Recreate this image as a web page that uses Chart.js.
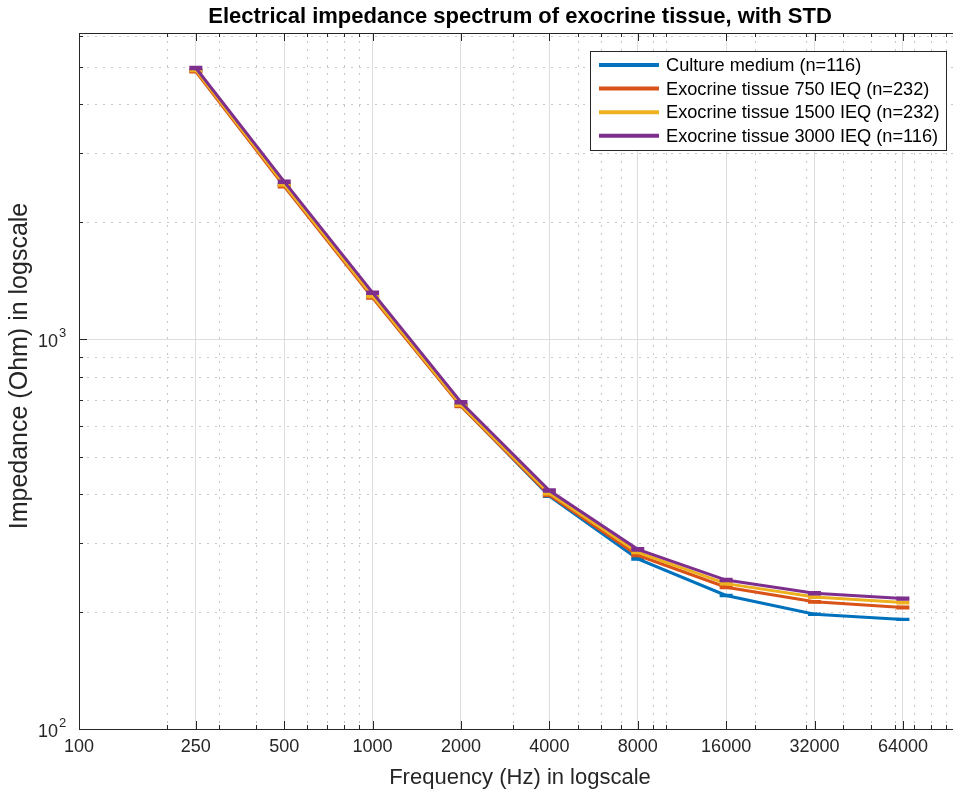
<!DOCTYPE html>
<html lang="en">
<head>
    <meta charset="UTF-8">
    <title>Electrical impedance spectrum of exocrine tissue</title>
    <script src="https://cdn.jsdelivr.net/npm/chart.js"></script>
    <style>
        body { margin: 0; background: #fff; }
    </style>
</head>
<body>
    <canvas id="myChart" width="953" height="796"></canvas>
    <script>
        // data
        const frequencies = [250, 500, 1000, 2000, 4000, 8000, 16000, 32000, 64000];
        const xTickValues = [100, 250, 500, 1000, 2000, 4000, 8000, 16000, 32000, 64000];
        const xMinorValues = [200, 300, 400, 600, 700, 800, 900, 3000, 5000, 6000, 7000, 9000, 10000,
                              20000, 30000, 40000, 50000, 60000, 70000, 80000, 90000];
        const yTickValues = [100, 1000];
        const yTickExponents = ['2', '3'];
        const yMinorValues = [200, 300, 400, 500, 600, 700, 800, 900, 2000, 3000, 4000, 5000, 6000];

        const seriesNames = ['Culture medium (n=116)', 'Exocrine tissue 750 IEQ (n=232)',
                             'Exocrine tissue 1500 IEQ (n=232)', 'Exocrine tissue 3000 IEQ (n=116)'];
        const cultureMedium = [4890, 2480, 1285, 675, 396, 273, 220, 197, 191];
        const tissue750 = [4860, 2466, 1277, 673, 398, 279, 231, 212, 205];
        const tissue1500 = [4900, 2490, 1289, 678, 402, 284, 236, 218, 211];
        const tissue3000 = [4960, 2535, 1316, 689, 409, 289, 241, 223, 216];
        const stdCulture = [20, 10, 5, 2.5, 1.5, 1, 0.6, 0.5, 0.4];
        const std750 = [25, 12, 6, 3, 2, 1.3, 1, 0.8, 0.8];
        const std1500 = [25, 12, 6, 3, 2, 1.3, 1, 0.8, 0.8];
        const std3000 = [30, 15, 8, 4, 2.5, 1.8, 1.4, 1.2, 1.2];
        const seriesColors = ['#0072BD', '#D95319', '#EDB120', '#7E2F8E'];

        const seriesValues = [cultureMedium, tissue750, tissue1500, tissue3000];
        const seriesStd = [stdCulture, std750, std1500, std3000];

        const FONT = '"Liberation Sans", Arial, sans-serif';
        Chart.defaults.font.family = FONT;
        Chart.defaults.color = '#262626';

        // dotted minor grid, inward ticks, axes box, texts and legend like matlab
        const axesDecor = {
            id: 'axesDecor',
            beforeDatasetsDraw(chart) {
                const { ctx, chartArea: a, scales: { x, y } } = chart;
                ctx.save();
                ctx.beginPath();
                ctx.rect(a.left, a.top, a.right - a.left, a.bottom - a.top);
                ctx.clip();
                ctx.strokeStyle = '#c8c8c8';
                ctx.lineWidth = 1;
                ctx.setLineDash([2, 6]);
                ctx.beginPath();
                xMinorValues.forEach(v => {
                    const px = Math.round(x.getPixelForValue(v)) + 0.5;
                    ctx.moveTo(px, a.top);
                    ctx.lineTo(px, a.bottom);
                });
                yMinorValues.forEach(v => {
                    const py = Math.round(y.getPixelForValue(v)) + 0.5;
                    ctx.moveTo(a.left, py);
                    ctx.lineTo(a.right, py);
                });
                ctx.stroke();
                ctx.restore();
            },
            afterDatasetDraw(chart, args) {
                // error bars (STD), drawn together with their own series
                const i = args.index;
                const { ctx, scales: { x, y } } = chart;
                ctx.save();
                ctx.strokeStyle = seriesColors[i];
                ctx.lineWidth = 2.5;
                ctx.beginPath();
                frequencies.forEach((f, j) => {
                    const px = x.getPixelForValue(f);
                    const v = seriesValues[i][j], s = seriesStd[i][j];
                    const top = y.getPixelForValue(v + s), bot = y.getPixelForValue(v - s);
                    ctx.moveTo(px, top); ctx.lineTo(px, bot);
                    ctx.moveTo(px - 6.5, top); ctx.lineTo(px + 6.5, top);
                    ctx.moveTo(px - 6.5, bot); ctx.lineTo(px + 6.5, bot);
                });
                ctx.stroke();
                ctx.restore();
            },
            afterDraw(chart) {
                const { ctx, chartArea: a, scales: { x, y } } = chart;
                ctx.save();
                ctx.strokeStyle = '#262626';
                ctx.lineWidth = 1;
                ctx.beginPath();
                const tick = (v, len, horiz) => {
                    if (horiz) {
                        const px = Math.round(x.getPixelForValue(v)) + 0.5;
                        ctx.moveTo(px, a.bottom); ctx.lineTo(px, a.bottom - len);
                        ctx.moveTo(px, a.top); ctx.lineTo(px, a.top + len);
                    } else {
                        const py = Math.round(y.getPixelForValue(v)) + 0.5;
                        ctx.moveTo(a.left, py); ctx.lineTo(a.left + len, py);
                    }
                };
                xTickValues.forEach(v => tick(v, 8, true));
                xMinorValues.forEach(v => tick(v, 4, true));
                yTickValues.forEach(v => tick(v, 8, false));
                yMinorValues.forEach(v => tick(v, 4, false));
                ctx.stroke();
                ctx.strokeRect(Math.round(a.left) + 0.5, Math.round(a.top) + 0.5,
                               a.right - a.left + 10, Math.round(a.bottom - a.top));

                // y tick labels as 10 with a raised exponent
                ctx.fillStyle = '#262626';
                ctx.textBaseline = 'alphabetic';
                yTickValues.forEach((v, k) => {
                    const py = y.getPixelForValue(v);
                    ctx.font = '18px ' + FONT;
                    ctx.textAlign = 'right';
                    ctx.fillText('10', 58, py + 8);
                    ctx.font = '13px ' + FONT;
                    ctx.textAlign = 'left';
                    ctx.fillText(yTickExponents[k], 59, py - 2);
                });

                // title and axis titles
                const cx = 520;
                ctx.textAlign = 'center';
                ctx.textBaseline = 'middle';
                ctx.fillStyle = '#000';
                ctx.font = 'bold 22px ' + FONT;
                ctx.fillText('Electrical impedance spectrum of exocrine tissue, with STD', cx, 17);
                ctx.fillStyle = '#262626';
                ctx.font = '22px ' + FONT;
                ctx.fillText('Frequency (Hz) in logscale', cx, 778);
                ctx.save();
                ctx.translate(20, 366);
                ctx.rotate(-Math.PI / 2);
                ctx.font = '25px ' + FONT;
                ctx.fillText('Impedance (Ohm) in logscale', 0, 0);
                ctx.restore();

                // legend box
                const lx = 590.5, ly = 51.5, lw = 356, lh = 99;
                ctx.fillStyle = '#fff';
                ctx.fillRect(lx, ly, lw, lh);
                ctx.strokeStyle = '#262626';
                ctx.lineWidth = 1;
                ctx.strokeRect(lx, ly, lw, lh);
                ctx.font = '18.2px ' + FONT;
                ctx.textAlign = 'left';
                ctx.textBaseline = 'middle';
                ctx.fillStyle = '#000';
                seriesNames.forEach((name, i) => {
                    const cy = 65 + i * 23.6;
                    ctx.strokeStyle = seriesColors[i];
                    ctx.lineWidth = 4;
                    ctx.beginPath();
                    ctx.moveTo(599, cy); ctx.lineTo(659, cy);
                    ctx.stroke();
                    ctx.fillText(name, 666, cy + 1);
                });
                ctx.restore();
            }
        };

        const ctx = document.getElementById('myChart').getContext('2d');
        new Chart(ctx, {
            type: 'line',
            data: {
                labels: frequencies,
                datasets: seriesNames.map((name, i) => ({
                    label: name,
                    data: frequencies.map((f, j) => ({ x: f, y: seriesValues[i][j] })),
                    borderColor: seriesColors[i],
                    backgroundColor: seriesColors[i],
                    borderWidth: 3,
                    pointRadius: 0,
                    tension: 0,
                    order: 4 - i
                }))
            },
            options: {
                responsive: false,
                animation: false,
                layout: { padding: { left: 0, right: 0, top: 33, bottom: 0 } },
                plugins: {
                    legend: { display: false },
                    tooltip: { enabled: false },
                    title: { display: false }
                },
                scales: {
                    x: {
                        type: 'logarithmic',
                        min: 100,
                        max: 94800,
                        bounds: 'data',
                        afterBuildTicks: axis => { axis.ticks = xTickValues.map(v => ({ value: v })); },
                        afterFit: axis => { axis.height = 67; },
                        ticks: {
                            autoSkip: false,
                            maxRotation: 0,
                            padding: 7,
                            font: { size: 18 },
                            callback: v => String(v)
                        },
                        grid: { color: '#dedede', drawTicks: false },
                        border: { display: false }
                    },
                    y: {
                        type: 'logarithmic',
                        min: 100,
                        max: 6100,
                        bounds: 'data',
                        afterBuildTicks: axis => { axis.ticks = yTickValues.map(v => ({ value: v })); },
                        afterFit: axis => { axis.width = 79; },
                        ticks: { display: false },
                        grid: { color: '#dedede', drawTicks: false },
                        border: { display: false }
                    }
                }
            },
            plugins: [axesDecor]
        });
    </script>
</body>
</html>
